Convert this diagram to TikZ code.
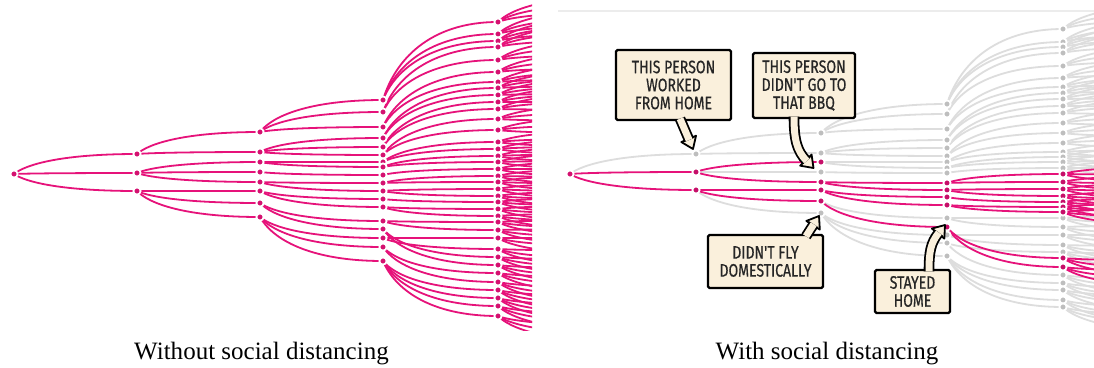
\documentclass[tikz,border=0pt]{standalone}
\usepackage{fontspec}
\setmainfont{Liberation Serif}
\newfontfamily\comicf[FakeStretch=0.78,FakeBold=0.6]{Fira Sans}
\usetikzlibrary{calc}
\pgfdeclarelayer{back}
\pgfdeclarelayer{bg}
\pgfsetlayers{back,bg,main}
\definecolor{pk}{RGB}{230,18,122}
\definecolor{gy}{RGB}{221,221,221}
\definecolor{cream}{RGB}{250,240,220}
\definecolor{topline}{RGB}{236,236,236}
\tikzset{
  edgeln/.style={line width=1.8pt, line cap=round},
  dotn/.style={circle, inner sep=0pt, minimum size=7.2pt, draw=white, line width=1.8pt},
  callout/.style={draw=black, fill=cream, line width=2.3pt, rounded corners=1.5pt, align=center,
    font=\comicf\fontsize{18}{18}\selectfont, text=black!85, inner sep=0pt},
  shaft/.style={double=cream, double distance=7pt, line width=1.8pt},
  headst/.style={fill=cream, draw=black, line width=1.8pt, line join=round},
  caption/.style={font=\fontsize{25}{30}\selectfont, anchor=base, inner sep=0pt},
}
\newcommand\tedge[3]{%
  \draw[edgeln,draw=#1] let \p1=(#2.center), \p2=(#3.center) in
  (\p1) .. controls ({\x1+0.1*(\x2-\x1)},{\y1+0.5*(\y2-\y1)}) and ({\x1+0.4*(\x2-\x1)},\y2) .. (\p2);}
% left tree
\def\LoneList{0/154,1/173,2/191}
\def\LtwoList{0/132/0,1/152/0,2/162/1,3/172/1,4/182/1,5/191/2,6/203/2,7/217/2}
\def\LthreeList{0/100/0,1/112/0,2/127/0,3/138/1,4/147/1,5/155/1,6/162/2,7/167/2,8/175/3,9/183/4,10/191/4,11/199/5,12/207/5,13/221/6,14/229/6,15/238/7,16/247/7,17/261/7}
\def\LfourList{0/22/0,1/34/0,2/41/0,3/47/1,4/60/1,5/72/2,6/82/2,7/88/3,8/95/3,9/102/4,10/109/4,11/119/5,12/130/5,13/142/6,14/149/6,15/156/7,16/162/7,17/169/8,18/176/9,19/182/9,20/189/10,21/196/10,22/202/11,23/209/12,24/216/12,25/222/13,26/230/13,27/238/15,28/249/15,29/257/14,30/265/14,31/273/16,32/282/16,33/290/17,34/298/17,35/306/17,36/316/17}
% right tree
\def\RoneList{0/154/0/gy,1/172/0/pk,2/190/0/pk}
\def\RtwoList{0/133/0/gy,1/153/0/gy,3/172/1/gy,7/213/2/gy,2/162/1/pk,4/182/1/pk,5/190/2/pk,6/201/2/pk}
\def\RthreeList{0/104/0/gy,1/114/0/gy,2/129/0/gy,3/140/1/gy,4/148/1/gy,5/156/1/gy,6/162/2/gy,7/168/2/gy,8/173/3/gy,13/218/6/gy,15/235/7/gy,16/243/7/gy,17/256/7/gy,9/183/4/pk,10/190/4/pk,11/197/5/pk,12/205/5/pk,14/227/6/pk}
\def\RfourList{0/29/0/gy,1/42/0/gy,2/47/0/gy,3/53/1/gy,4/66/1/gy,5/78/2/gy,6/87/2/gy,7/93/3/gy,8/99/3/gy,9/106/4/gy,10/113/4/gy,11/123/5/gy,12/133/5/gy,13/143/6/gy,14/152/6/gy,15/157/7/gy,16/162/7/gy,17/168/8/gy,25/218/13/gy,26/227/13/gy,27/235/15/gy,28/245/15/gy,29/252/16/gy,32/275/16/gy,33/283/17/gy,34/290/17/gy,35/300/17/gy,36/307/17/gy,18/174/9/pk,19/182/9/pk,20/189/10/pk,21/196/10/pk,22/202/11/pk,23/207/12/pk,24/212/12/pk,30/258/14/pk,31/267/14/pk}
\begin{document}
\begin{tikzpicture}[x=1pt,y=-1pt]
\useasboundingbox (0,0) rectangle (1094,367);
\begin{pgfonlayer}{back}
  \fill[white] (0,0) rectangle (1094,367);
\end{pgfonlayer}

% ---------- left panel nodes ----------
\node[dotn,fill=pk!92!black] (L0-0) at (14,174) {};
\foreach \ii/\yy in \LoneList {\node[dotn,fill=pk!92!black] (L1-\ii) at (137,\yy) {};}
\foreach \ii/\yy/\qq in \LtwoList {\node[dotn,fill=pk!92!black] (L2-\ii) at (260,\yy) {};}
\foreach \ii/\yy/\qq in \LthreeList {\node[dotn,fill=pk!92!black] (L3-\ii) at (383,\yy) {};}
\foreach \ii/\yy/\qq in \LfourList {\node[dotn,fill=pk!92!black] (L4-\ii) at (498,\yy) {};
  \foreach \jj/\oo in {a/-8,b/0,c/8} {\coordinate (L5-\ii\jj) at (620,{\yy+(\yy-170)*0.12+\oo});}}

% ---------- right panel nodes ----------
\draw[topline, line width=2pt] (558,11) -- (1094,11);
\node[dotn,fill=pk!92!black] (R0-0) at (570,174) {};
\foreach \ii/\yy/\qq/\cc in \RoneList {\node[dotn,fill=\cc!86!black] (R1-\ii) at (696,\yy) {};}
\foreach \ii/\yy/\qq/\cc in \RtwoList {\node[dotn,fill=\cc!86!black] (R2-\ii) at (821,\yy) {};}
\foreach \ii/\yy/\qq/\cc in \RthreeList {\node[dotn,fill=\cc!86!black] (R3-\ii) at (947,\yy) {};}
\foreach \ii/\yy/\qq/\cc in \RfourList {\node[dotn,fill=\cc!86!black] (R4-\ii) at (1063,\yy) {};
  \foreach \jj/\oo in {a/-8,b/0,c/8} {\coordinate (R5-\ii\jj) at (1185,{\yy+(\yy-170)*0.12+\oo});}}

% ---------- connectors ----------
\begin{pgfonlayer}{bg}
  \begin{scope}
    \clip (0,0) rectangle (532,330);
    \foreach \ii/\yy in \LoneList {\tedge{pk}{L0-0}{L1-\ii}}
    \foreach \ii/\yy/\qq in \LtwoList {\tedge{pk}{L1-\qq}{L2-\ii}}
    \foreach \ii/\yy/\qq in \LthreeList {\tedge{pk}{L2-\qq}{L3-\ii}}
    \foreach \ii/\yy/\qq in \LfourList {\tedge{pk}{L3-\qq}{L4-\ii}
      \foreach \jj in {a,b,c} {\tedge{pk}{L4-\ii}{L5-\ii\jj}}}
  \end{scope}
  \begin{scope}
    \clip (556,0) rectangle (1094,330);
    \foreach \ii/\yy/\qq/\cc in \RoneList {\tedge{\cc}{R0-0}{R1-\ii}}
    \foreach \ii/\yy/\qq/\cc in \RtwoList {\tedge{\cc}{R1-\qq}{R2-\ii}}
    \foreach \ii/\yy/\qq/\cc in \RthreeList {\tedge{\cc}{R2-\qq}{R3-\ii}}
    \foreach \ii/\yy/\qq/\cc in \RfourList {\tedge{\cc}{R3-\qq}{R4-\ii}
      \foreach \jj in {a,b,c} {\tedge{\cc}{R4-\ii}{R5-\ii\jj}}}
  \end{scope}
\end{pgfonlayer}

% ---------- callouts ----------
\node[callout, minimum width=115pt, minimum height=70pt] (box1) at (673.5,85) {THIS PERSON\\WORKED\\FROM HOME};
\node[callout, minimum width=102pt, minimum height=65pt] (box2) at (804,85.5) {THIS PERSON\\DIDN'T GO TO\\THAT BBQ};
\node[callout, minimum width=115pt, minimum height=53pt] (box3) at (765.5,261.5) {DIDN'T FLY\\DOMESTICALLY};
\node[callout, minimum width=75pt, minimum height=43pt] (box4) at (912.5,291.5) {STAYED\\HOME};

% pointer 1
\coordinate (s1) at (680,118.7); \coordinate (t1) at (693,149);
\coordinate (h1) at ($(t1)!11pt!(s1)$); \coordinate (e1) at ($(t1)!9.8pt!(s1)$);
\filldraw[headst] ($(h1)!8pt!90:(t1)$) -- (t1) -- ($(h1)!8pt!-90:(t1)$) -- cycle;
\draw[shaft] (s1) -- (e1);
% pointer 2
\coordinate (s2) at (794,116.7); \coordinate (k2) at (797,151); \coordinate (t2) at (813.5,168);
\coordinate (h2) at ($(t2)!11pt!(k2)$); \coordinate (e2) at ($(t2)!9.8pt!(k2)$);
\filldraw[headst] ($(h2)!8pt!90:(t2)$) -- (t2) -- ($(h2)!8pt!-90:(t2)$) -- cycle;
\draw[shaft] (s2) .. controls (794,140) and (k2) .. (e2);
% pointer 3
\coordinate (s3) at (806,236.3); \coordinate (t3) at (819,216);
\coordinate (h3) at ($(t3)!11pt!(s3)$); \coordinate (e3) at ($(t3)!9.8pt!(s3)$);
\filldraw[headst] ($(h3)!8pt!90:(t3)$) -- (t3) -- ($(h3)!8pt!-90:(t3)$) -- cycle;
\draw[shaft] (s3) -- (e3);
% pointer 4
\coordinate (s4) at (929,271.3); \coordinate (k4) at (930.5,243); \coordinate (t4) at (945,225);
\coordinate (h4) at ($(t4)!11pt!(k4)$); \coordinate (e4) at ($(t4)!9.8pt!(k4)$);
\filldraw[headst] ($(h4)!8pt!90:(t4)$) -- (t4) -- ($(h4)!8pt!-90:(t4)$) -- cycle;
\draw[shaft] (s4) .. controls (929,252) and (k4) .. (e4);

% ---------- captions ----------
\node[caption] (cap1) at (261.5,359) {Without social distancing};
\node[caption] (cap2) at (827,359) {With social distancing};
\end{tikzpicture}
\end{document}
